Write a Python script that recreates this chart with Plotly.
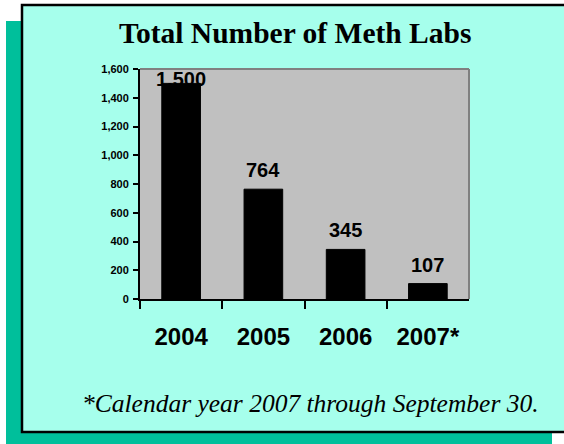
import plotly.graph_objects as go

# ---- data ----
categories = ["2004", "2005", "2006", "2007*"]
meth_labs = [1500, 764, 345, 107]
y_ticks = [0, 200, 400, 600, 800, 1000, 1200, 1400, 1600]

title_text = "Total Number of Meth Labs"
footnote_text = "*Calendar year 2007 through September 30."

# ---- geometry (pixels in a 564x444 figure) ----
W, H = 564, 444
plot_l, plot_r, plot_t, plot_b = 140, 469, 69, 299
plot_h = plot_b - plot_t
y_max = 1600

def px(x):
    return x / W

def py(y):
    return 1 - y / H

CYAN = "#A6FFEC"
TEAL = "#00BF9B"
GRAY = "#C0C0C0"

fig = go.Figure()
fig.add_trace(go.Bar(
    x=categories, y=meth_labs,
    marker=dict(color="black", line=dict(color="black", width=1)),
    width=0.47, hoverinfo="x+y",
))

# value labels (kept inside plot area like the original)
annotations = []
for i, v in enumerate(meth_labs):
    vpx = v / y_max * plot_h
    shift = min(19, (plot_h - 10) - vpx)
    annotations.append(dict(
        x=i, y=v, xref="x", yref="y", text=f"{v:,}", showarrow=False,
        yanchor="middle", yshift=shift,
        font=dict(family="Liberation Sans, Arial", size=20, color="black", weight="bold"),
    ))

annotations.append(dict(
    x=px(294.5), y=py(33), xref="paper", yref="paper", text=title_text,
    showarrow=False, xanchor="center", yanchor="middle",
    font=dict(family="Liberation Serif, Times New Roman, serif", size=29.5, color="black", weight="bold"),
))
annotations.append(dict(
    x=px(310), y=py(403), xref="paper", yref="paper", text=footnote_text,
    showarrow=False, xanchor="center", yanchor="middle",
    font=dict(family="Liberation Serif, Times New Roman, serif", size=25.5, color="black", style="italic"),
))

shapes = [
    # teal shadow
    dict(type="rect", xref="paper", yref="paper", x0=px(6), x1=px(552), y0=py(460), y1=py(21),
         fillcolor=TEAL, line=dict(width=0), layer="below"),
    # cyan box
    dict(type="rect", xref="paper", yref="paper", x0=px(22), x1=px(580), y0=py(432), y1=py(5),
         fillcolor=CYAN, line=dict(color="black", width=2.5), layer="below"),
    # gray plot area
    dict(type="rect", xref="paper", yref="paper", x0=px(plot_l), x1=px(plot_r), y0=py(plot_b), y1=py(plot_t),
         fillcolor=GRAY, line=dict(width=0), layer="below"),
    # gray top / right plot borders
    dict(type="line", xref="paper", yref="paper", x0=px(plot_l), x1=px(plot_r), y0=py(plot_t), y1=py(plot_t),
         line=dict(color="#808080", width=2), layer="above"),
    dict(type="line", xref="paper", yref="paper", x0=px(plot_r), x1=px(plot_r), y0=py(plot_t), y1=py(plot_b),
         line=dict(color="#808080", width=2), layer="above"),
]

fig.update_layout(
    width=W, height=H,
    margin=dict(l=0, r=0, t=0, b=0, autoexpand=False),
    paper_bgcolor="white",
    plot_bgcolor="rgba(0,0,0,0)",
    showlegend=False,
    annotations=annotations,
    shapes=shapes,
    xaxis=dict(
        domain=[px(plot_l), px(plot_r)],
        type="category",
        range=[-0.5, len(categories) - 0.5],
        tickson="boundaries",
        ticks="outside", ticklen=8, tickwidth=2, tickcolor="black",
        showline=True, linecolor="black", linewidth=2,
        showgrid=False, zeroline=False,
        tickfont=dict(family="Liberation Sans, Arial", size=24, color="black", weight="bold"),
        ticklabelstandoff=15,
        tickangle=0,
        automargin=False,
        fixedrange=True,
    ),
    yaxis=dict(
        domain=[py(plot_b), py(plot_t)],
        range=[0, y_max],
        tickmode="array", tickvals=y_ticks,
        tickformat=",",
        ticks="outside", ticklen=5, tickwidth=2, tickcolor="black",
        showline=True, linecolor="black", linewidth=2,
        showgrid=False, zeroline=False,
        tickfont=dict(family="Liberation Sans, Arial", size=11, color="black", weight="bold"),
        ticklabelstandoff=2,
        automargin=False,
        fixedrange=True,
    ),
)

fig.write_html("out.html", config={"displayModeBar": False},
               post_script="document.body.style.margin='0';document.body.style.padding='0';")
